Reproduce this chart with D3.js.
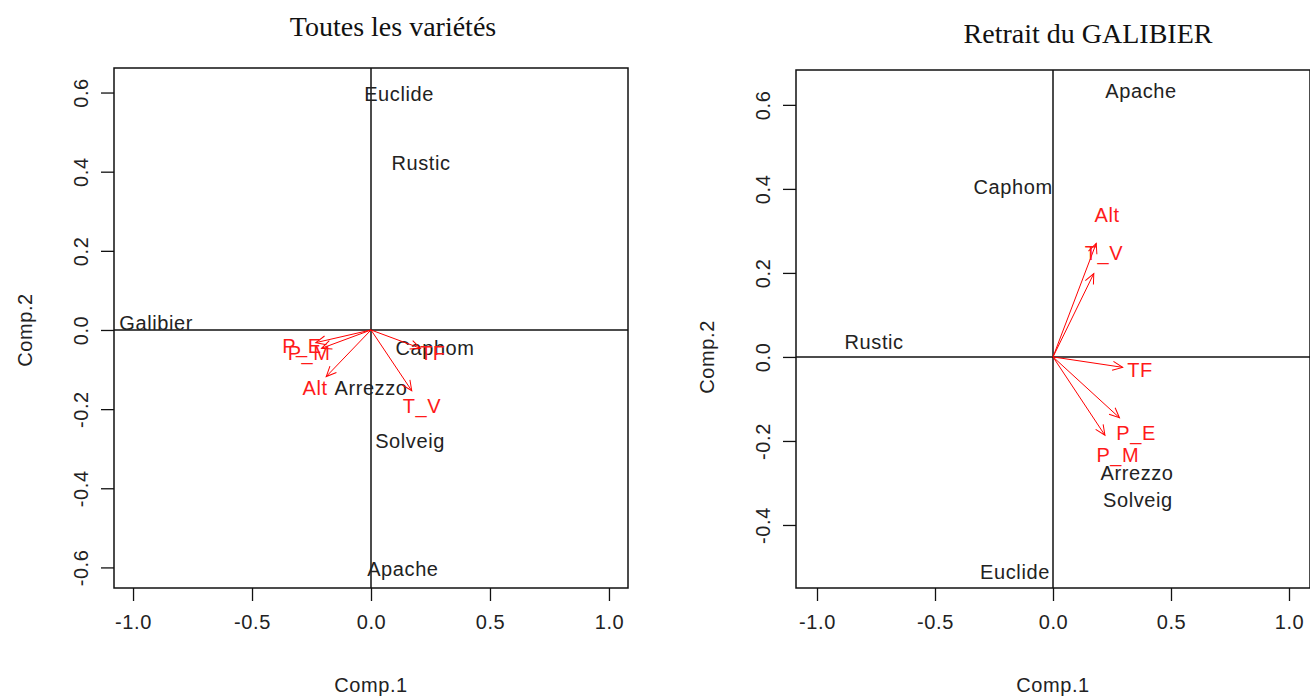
<!DOCTYPE html>
<html>
<head>
<meta charset="utf-8">
<script src="https://cdn.jsdelivr.net/npm/d3@7"></script>
<style>
  body { margin: 0; background: #fff; }
  svg { display: block; }
  .lab { font-family: "Liberation Sans", Arial, sans-serif; font-size: 20px; letter-spacing: 0.6px; }
  .title { font-family: "Liberation Serif", "Times New Roman", serif; font-size: 28px; }
</style>
</head>
<body>
<div id="chart"></div>
<script>
// Left panel: all varieties
const leftIndNames = ["Euclide", "Rustic", "Galibier", "Caphom", "Arrezzo", "Solveig", "Apache"];
const leftIndC1 = [0.118, 0.21, -0.903, 0.269, 0.0, 0.164, 0.134];
const leftIndC2 = [0.596, 0.422, 0.018, -0.045, -0.147, -0.28, -0.604];
const leftVarNames = ["P_E", "P_M", "Alt", "TF", "T_V"];
const leftVarC1 = [-0.29, -0.26, -0.235, 0.26, 0.214];
const leftVarC2 = [-0.04, -0.058, -0.147, -0.058, -0.192];

// Right panel: GALIBIER removed
const rightIndNames = ["Apache", "Caphom", "Rustic", "Euclide", "Arrezzo", "Solveig"];
const rightIndC1 = [0.373, -0.169, -0.758, -0.161, 0.356, 0.36];
const rightIndC2 = [0.633, 0.405, 0.036, -0.512, -0.276, -0.34];
const rightVarNames = ["Alt", "T_V", "TF", "P_E", "P_M"];
const rightVarC1 = [0.229, 0.216, 0.369, 0.352, 0.275];
const rightVarC2 = [0.338, 0.248, -0.031, -0.181, -0.233];

const xTicks = [-1.0, -0.5, 0.0, 0.5, 1.0];
const leftYTicks = [-0.6, -0.4, -0.2, 0.0, 0.2, 0.4, 0.6];
const rightYTicks = [-0.4, -0.2, 0.0, 0.2, 0.4, 0.6];

const width = 1310, height = 697;

// R style labels: plain hyphen for negatives
const fmt = d => d3.format(".1f")(d).replace("\u2212", "-");

const svg = d3.select("#chart").append("svg")
  .attr("width", width)
  .attr("height", height);

svg.append("defs").append("marker")
  .attr("id", "head")
  .attr("viewBox", "-12 -8 14 16")
  .attr("refX", 0)
  .attr("refY", 0)
  .attr("markerWidth", 14)
  .attr("markerHeight", 16)
  .attr("markerUnits", "userSpaceOnUse")
  .attr("orient", "auto")
  .append("path")
  .attr("d", "M-10,-4.5L0,0L-10,4.5")
  .attr("fill", "none")
  .attr("stroke", "#ff0000")
  .attr("stroke-width", 1);

function drawPanel(p) {
  const x = d3.scaleLinear().domain(p.xDomain).range([p.left, p.right]);
  const y = d3.scaleLinear().domain(p.yDomain).range([p.bottom, p.top]);
  const g = svg.append("g");

  // title
  g.append("text")
    .attr("class", "title")
    .attr("x", p.titleX)
    .attr("y", p.titleY)
    .attr("text-anchor", "middle")
    .attr("fill", "#111")
    .text(p.title);

  // x axis
  const xAxis = g.append("g")
    .attr("transform", `translate(0,${p.bottom})`)
    .call(d3.axisBottom(x).tickValues(xTicks).tickSize(13).tickPadding(14).tickFormat(fmt));
  xAxis.select(".domain").remove();

  // y axis
  const yAxis = g.append("g")
    .attr("transform", `translate(${p.left},0)`)
    .call(d3.axisLeft(y).tickValues(p.yTicks).tickSize(13).tickFormat(fmt));
  yAxis.select(".domain").remove();
  yAxis.selectAll(".tick text")
    .attr("x", null).attr("dy", null)
    .attr("transform", "translate(-26,0) rotate(-90)")
    .attr("text-anchor", "middle");

  g.selectAll(".tick line").attr("stroke", "#111").attr("stroke-width", 1.3);
  g.selectAll(".tick text")
    .attr("class", "lab")
    .attr("fill", "#222")
    .attr("font-family", null)
    .attr("font-size", null);
  xAxis.selectAll(".tick text").attr("dy", "0.71em");

  // box and zero lines
  g.append("rect")
    .attr("x", p.left).attr("y", p.top)
    .attr("width", p.right - p.left).attr("height", p.bottom - p.top)
    .attr("fill", "none").attr("stroke", "#111").attr("stroke-width", 1.5);
  g.append("line")
    .attr("x1", p.left).attr("x2", p.right)
    .attr("y1", y(0)).attr("y2", y(0))
    .attr("stroke", "#111").attr("stroke-width", 1.5);
  g.append("line")
    .attr("x1", x(0)).attr("x2", x(0))
    .attr("y1", p.top).attr("y2", p.bottom)
    .attr("stroke", "#111").attr("stroke-width", 1.5);

  // axis titles
  g.append("text")
    .attr("class", "lab")
    .attr("x", x(0)).attr("y", 692)
    .attr("text-anchor", "middle")
    .attr("fill", "#222")
    .text("Comp.1");
  g.append("text")
    .attr("class", "lab")
    .attr("transform", `translate(${p.left - 82},${y(0)}) rotate(-90)`)
    .attr("text-anchor", "middle")
    .attr("fill", "#222")
    .text("Comp.2");

  // individuals
  g.selectAll(".ind")
    .data(p.indNames)
    .join("text")
    .attr("class", "lab ind")
    .attr("x", (d, i) => x(p.indC1[i]))
    .attr("y", (d, i) => y(p.indC2[i]))
    .attr("dy", "0.35em")
    .attr("text-anchor", "middle")
    .attr("fill", "#222")
    .text(d => d);

  // variable arrows (drawn to 0.8 of the loading, label at the loading)
  g.selectAll(".arr")
    .data(p.varNames)
    .join("line")
    .attr("class", "arr")
    .attr("x1", x(0)).attr("y1", y(0))
    .attr("x2", (d, i) => x(0.8 * p.varC1[i]))
    .attr("y2", (d, i) => y(0.8 * p.varC2[i]))
    .attr("stroke", "#ff0000")
    .attr("stroke-width", 1)
    .attr("marker-end", "url(#head)");

  g.selectAll(".var")
    .data(p.varNames)
    .join("text")
    .attr("class", "lab var")
    .attr("x", (d, i) => x(p.varC1[i]))
    .attr("y", (d, i) => y(p.varC2[i]))
    .attr("dy", "0.35em")
    .attr("text-anchor", "middle")
    .attr("fill", "#ff1a1a")
    .text(d => d);
}

drawPanel({
  title: "Toutes les variétés", titleX: 393, titleY: 36,
  left: 114, right: 628, top: 68, bottom: 588,
  xDomain: [-1.08, 1.08], yDomain: [-0.652, 0.662], yTicks: leftYTicks,
  indNames: leftIndNames, indC1: leftIndC1, indC2: leftIndC2,
  varNames: leftVarNames, varC1: leftVarC1, varC2: leftVarC2
});

drawPanel({
  title: "Retrait du GALIBIER", titleX: 1088, titleY: 43,
  left: 796, right: 1310, top: 70, bottom: 588,
  xDomain: [-1.089, 1.089], yDomain: [-0.55, 0.683], yTicks: rightYTicks,
  indNames: rightIndNames, indC1: rightIndC1, indC2: rightIndC2,
  varNames: rightVarNames, varC1: rightVarC1, varC2: rightVarC2
});
</script>
</body>
</html>
